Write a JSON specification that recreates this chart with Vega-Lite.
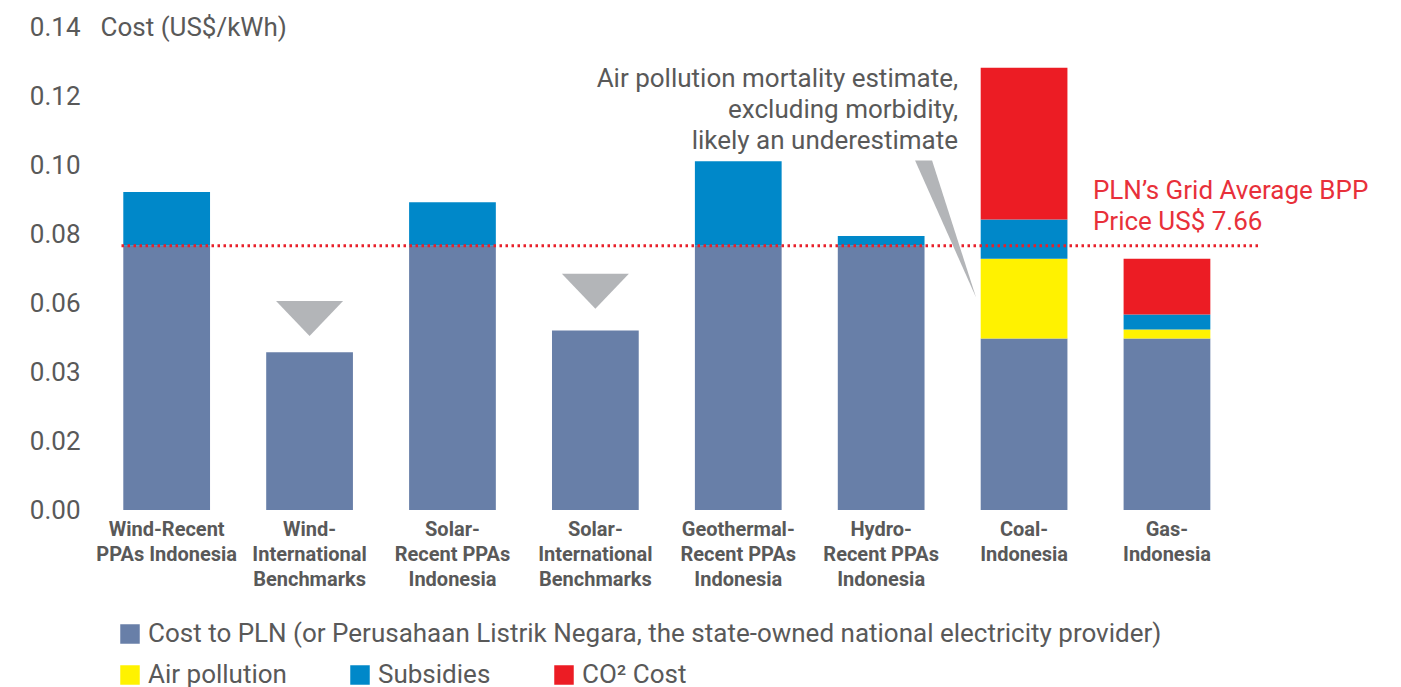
{
  "$schema": "https://vega.github.io/schema/vega-lite/v6.json",
  "width": 1140,
  "height": 483,
  "autosize": {"type": "none"},
  "padding": {"left": 118, "top": 27, "right": 143, "bottom": 177},
  "background": "white",
  "config": {
    "font": "Roboto",
    "view": {"stroke": null},
    "legend": {
      "labelFont": "Roboto",
      "labelFontSize": 26,
      "labelColor": "#595959",
      "symbolType": "square",
      "symbolSize": 380,
      "symbolStrokeWidth": 0,
      "labelOffset": 5,
      "padding": 0,
      "labelLimit": 0,
      "columnPadding": 60,
      "direction": "horizontal"
    }
  },
  "datasets": {
    "costs": [
      {"source": "Wind-Recent\nPPAs Indonesia", "component": "Cost to PLN (or Perusahaan Listrik Negara, the state-owned national electricity provider)", "value": 0.0766},
      {"source": "Wind-Recent\nPPAs Indonesia", "component": "Subsidies", "value": 0.0156},
      {"source": "Wind-\nInternational\nBenchmarks", "component": "Cost to PLN (or Perusahaan Listrik Negara, the state-owned national electricity provider)", "value": 0.0457},
      {"source": "Solar-\nRecent PPAs\nIndonesia", "component": "Cost to PLN (or Perusahaan Listrik Negara, the state-owned national electricity provider)", "value": 0.0766},
      {"source": "Solar-\nRecent PPAs\nIndonesia", "component": "Subsidies", "value": 0.0126},
      {"source": "Solar-\nInternational\nBenchmarks", "component": "Cost to PLN (or Perusahaan Listrik Negara, the state-owned national electricity provider)", "value": 0.052},
      {"source": "Geothermal-\nRecent PPAs\nIndonesia", "component": "Cost to PLN (or Perusahaan Listrik Negara, the state-owned national electricity provider)", "value": 0.0766},
      {"source": "Geothermal-\nRecent PPAs\nIndonesia", "component": "Subsidies", "value": 0.0245},
      {"source": "Hydro-\nRecent PPAs\nIndonesia", "component": "Cost to PLN (or Perusahaan Listrik Negara, the state-owned national electricity provider)", "value": 0.0766},
      {"source": "Hydro-\nRecent PPAs\nIndonesia", "component": "Subsidies", "value": 0.0028},
      {"source": "Coal-\nIndonesia", "component": "Cost to PLN (or Perusahaan Listrik Negara, the state-owned national electricity provider)", "value": 0.0497},
      {"source": "Coal-\nIndonesia", "component": "Air pollution", "value": 0.0231},
      {"source": "Coal-\nIndonesia", "component": "Subsidies", "value": 0.0114},
      {"source": "Coal-\nIndonesia", "component": "CO² Cost", "value": 0.044},
      {"source": "Gas-\nIndonesia", "component": "Cost to PLN (or Perusahaan Listrik Negara, the state-owned national electricity provider)", "value": 0.0497},
      {"source": "Gas-\nIndonesia", "component": "Air pollution", "value": 0.0026},
      {"source": "Gas-\nIndonesia", "component": "Subsidies", "value": 0.0044},
      {"source": "Gas-\nIndonesia", "component": "CO² Cost", "value": 0.0161}
    ],
    "benchmarks": [
      {"source": "Wind-\nInternational\nBenchmarks", "marker": 0.0555},
      {"source": "Solar-\nInternational\nBenchmarks", "marker": 0.0634}
    ],
    "bpp": [
      {"label": "PLN’s Grid Average BPP\nPrice US$ 7.66", "price": 0.0766}
    ],
    "notes": [
      {"source": "Coal-\nIndonesia", "note": "Air pollution mortality estimate,\nexcluding morbidity,\nlikely an underestimate"}
    ]
  },
  "layer": [
    {
      "data": {"name": "costs"},
      "transform": [
        {"stack": "value", "groupby": ["source"], "as": ["v0", "v1"]}
      ],
      "layer": [
        {
          "transform": [{"filter": "datum.component !== 'Air pollution' && datum.component !== 'Subsidies' && datum.component !== 'CO² Cost'"}],
          "mark": {"type": "bar", "strokeWidth": 0},
          "encoding": {
            "x": {
              "field": "source",
              "type": "nominal",
              "scale": {
                "domain": [
                  "Wind-Recent\nPPAs Indonesia",
                  "Wind-\nInternational\nBenchmarks",
                  "Solar-\nRecent PPAs\nIndonesia",
                  "Solar-\nInternational\nBenchmarks",
                  "Geothermal-\nRecent PPAs\nIndonesia",
                  "Hydro-\nRecent PPAs\nIndonesia",
                  "Coal-\nIndonesia",
                  "Gas-\nIndonesia"
                ],
                "paddingInner": 0.393,
                "paddingOuter": 0.1853,
                "align": 0.1
              },
              "axis": {
                "title": null,
                "labelExpr": "split(datum.value, '\\n')",
                "labelAngle": 0,
                "labelFont": "Roboto",
                "labelFontWeight": "bold",
                "labelFontSize": 20,
                "labelColor": "#595959",
                "labelLineHeight": 25,
                "labelBaseline": "top",
                "labelPadding": 9,
                "labelLimit": 0,
                "ticks": false,
                "domain": false
              }
            },
            "y": {
              "field": "v1",
              "type": "quantitative",
              "scale": {"domain": [0, 0.14], "nice": false, "zero": true},
              "axis": {
                "title": "Cost (US$/kWh)",
                "titleAngle": 0,
                "titleAlign": "left",
                "titleBaseline": "middle",
                "titleX": -18,
                "titleY": 0,
                "titleFont": "Roboto",
                "titleFontSize": 26,
                "titleFontWeight": "normal",
                "titleColor": "#595959",
                "values": [0, 0.02, 0.04, 0.06, 0.08, 0.1, 0.12, 0.14],
                "labelExpr": "abs(datum.value - 0.04) < 1e-9 ? '0.03' : format(datum.value, '.2f')",
                "labelFont": "Roboto",
                "labelFontSize": 26,
                "labelColor": "#595959",
                "labelPadding": 38,
                "labelBaseline": "middle",
                "grid": false,
                "ticks": false,
                "domain": false
              }
            },
            "y2": {"field": "v0"},
            "color": {
              "field": "component",
              "type": "nominal",
              "scale": {
                "domain": ["Cost to PLN (or Perusahaan Listrik Negara, the state-owned national electricity provider)"],
                "range": ["#687fa8"]
              },
              "legend": {"title": null, "orient": "none", "legendX": -1, "legendY": 594}
            }
          }
        },
        {
          "transform": [{"filter": "datum.component === 'Air pollution' || datum.component === 'Subsidies' || datum.component === 'CO² Cost'"}],
          "mark": {"type": "bar", "strokeWidth": 0},
          "encoding": {
            "x": {"field": "source", "type": "nominal"},
            "y": {"field": "v1", "type": "quantitative"},
            "y2": {"field": "v0"},
            "fill": {
              "field": "component",
              "type": "nominal",
              "scale": {
                "domain": ["Air pollution", "Subsidies", "CO² Cost"],
                "range": ["#fff200", "#0088c9", "#ec1c24"]
              },
              "legend": {"title": null, "orient": "none", "legendX": -1, "legendY": 635, "direction": "horizontal"}
            }
          }
        }
      ]
    },
    {
      "data": {"name": "bpp"},
      "mark": {"type": "rule", "color": "#e8202a", "strokeDash": [2.5, 3.5], "strokeWidth": 3},
      "encoding": {
        "y": {"field": "price", "type": "quantitative"}
      }
    },
    {
      "data": {"name": "bpp"},
      "mark": {"type": "text", "align": "left", "baseline": "middle", "dx": -74, "dy": -55, "fontSize": 26, "lineHeight": 31, "lineBreak": "\n", "color": "#e8303a", "font": "Roboto"},
      "encoding": {
        "x": {"datum": "Gas-\nIndonesia", "type": "nominal"},
        "y": {"field": "price", "type": "quantitative"},
        "text": {"field": "label"}
      }
    },
    {
      "data": {"name": "benchmarks"},
      "mark": {"type": "point", "shape": "M-1,-0.52L1,-0.52L0,0.52Z", "size": 4489, "filled": true, "opacity": 1, "color": "#b3b5b8", "strokeWidth": 0},
      "encoding": {
        "x": {"field": "source", "type": "nominal"},
        "y": {"field": "marker", "type": "quantitative"}
      }
    },
    {
      "data": {"name": "notes"},
      "mark": {"type": "point", "shape": "M-1.09,-0.045L-0.92,-0.045L-0.48,1.325Z", "size": 40000, "filled": true, "opacity": 1, "color": "#b3b5b8", "strokeWidth": 0},
      "encoding": {
        "x": {"field": "source", "type": "nominal"},
        "y": {"datum": 0.1, "type": "quantitative"}
      }
    },
    {
      "data": {"name": "notes"},
      "mark": {"type": "text", "align": "right", "baseline": "middle", "dx": -66, "dy": -17.5, "fontSize": 26, "lineHeight": 31, "lineBreak": "\n", "color": "#595959", "font": "Roboto"},
      "encoding": {
        "x": {"field": "source", "type": "nominal"},
        "y": {"datum": 0.12, "type": "quantitative"},
        "text": {"field": "note"}
      }
    }
  ]
}
